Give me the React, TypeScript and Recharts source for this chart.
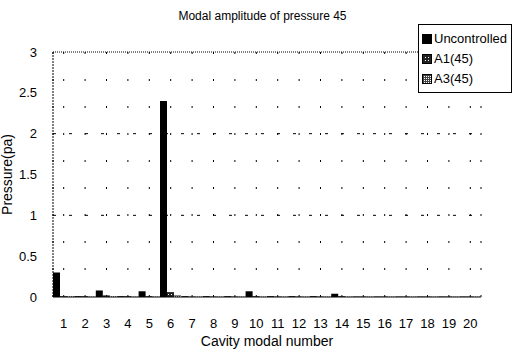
import {
  BarChart,
  Bar,
  XAxis,
  YAxis,
  CartesianGrid,
} from "recharts";

const modes = ["1", "2", "3", "4", "5", "6", "7", "8", "9", "10", "11", "12", "13", "14", "15", "16", "17", "18", "19", "20"];
const uncontrolled = [0.3, 0.01, 0.08, 0.01, 0.07, 2.4, 0.01, 0.01, 0.01, 0.07, 0.01, 0.01, 0.01, 0.04, 0.005, 0.005, 0.005, 0.005, 0.005, 0.005];
const a1 = [0.01, 0.01, 0.02, 0.01, 0.01, 0.06, 0.005, 0.005, 0.005, 0.01, 0.005, 0.005, 0.005, 0.01, 0.005, 0.005, 0.005, 0.005, 0.005, 0.005];
const a3 = [0.01, 0.005, 0.01, 0.005, 0.005, 0.02, 0.005, 0.005, 0.005, 0.005, 0.005, 0.005, 0.005, 0.005, 0.005, 0.005, 0.005, 0.005, 0.005, 0.005];
const yTicks = [0, 0.5, 1, 1.5, 2, 2.5, 3];

const data = modes.map((m, i) => ({
  mode: m,
  Uncontrolled: uncontrolled[i],
  "A1(45)": a1[i],
  "A3(45)": a3[i],
}));

const font = "'Liberation Sans', Arial, sans-serif";

const legendItems = [
  { name: "Uncontrolled", fill: "#000" },
  { name: "A1(45)", fill: "url(#lgA1)" },
  { name: "A3(45)", fill: "url(#lgA3)" },
];

function Patterns({ a1Id, a3Id }: { a1Id: string; a3Id: string }) {
  return (
    <defs>
      <pattern id={a1Id} width="3" height="3" patternUnits="userSpaceOnUse">
        <rect width="3" height="3" fill="#222" />
        <rect width="1" height="1" fill="#fff" />
      </pattern>
      <pattern id={a3Id} width="2" height="2" patternUnits="userSpaceOnUse">
        <rect width="2" height="2" fill="#444" />
        <rect width="1" height="1" fill="#fff" />
      </pattern>
    </defs>
  );
}

function LegendBox() {
  return (
    <div
      style={{
        position: "absolute",
        left: 418,
        top: 24,
        border: "1px solid #000",
        background: "#fff",
        padding: "4px 4px 3px 3px",
        fontFamily: font,
        fontSize: 13,
        lineHeight: "20px",
        color: "#000",
      }}
    >
      <svg width={0} height={0} style={{ position: "absolute" }}>
        <Patterns a1Id="lgA1" a3Id="lgA3" />
      </svg>
      {legendItems.map((it) => (
        <div key={it.name} style={{ display: "flex", alignItems: "center" }}>
          <svg width={10} height={10} style={{ marginRight: 2 }}>
            <rect x={0.5} y={0.5} width={9} height={9} fill={it.fill} stroke="#000" />
          </svg>
          {it.name}
        </div>
      ))}
    </div>
  );
}

export default function App() {
  return (
    <div style={{ position: "absolute", left: 0, top: 0, width: 515, height: 350, background: "#fff" }}>
      <div
        style={{
          position: "absolute",
          top: 9,
          left: 0,
          width: 525,
          textAlign: "center",
          fontFamily: font,
          fontSize: 12,
        }}
      >
        Modal amplitude of pressure 45
      </div>
      <BarChart
        width={515}
        height={350}
        data={data}
        margin={{ top: 52, right: 34, bottom: 0, left: 0 }}
        barCategoryGap={1}
        barGap={0}
      >
        <Patterns a1Id="hatchA1" a3Id="hatchA3" />
        <CartesianGrid
          stroke="#000"
          strokeDasharray="3 13"
          vertical={false}
          horizontalValues={[1, 2]}
        />
        <CartesianGrid
          stroke="#000"
          strokeDasharray="1 1"
          vertical={false}
          horizontalValues={[3]}
        />
        <CartesianGrid
          stroke="#000"
          strokeDasharray="2 25"
          horizontal={false}
        />
        <XAxis
          dataKey="mode"
          height={53}
          axisLine={{ stroke: "#000" }}
          tickLine={false}
          tickMargin={16}
          tick={{ fill: "#000", fontSize: 13, fontFamily: font }}
          interval={0}
          label={{
            value: "Cavity modal number",
            position: "insideBottom",
            offset: 4,
            fill: "#000",
            fontSize: 14,
            fontFamily: font,
          }}
        />
        <YAxis
          width={53}
          domain={[0, 3]}
          ticks={yTicks}
          axisLine={{ stroke: "#000", strokeDasharray: "2 1" }}
          tickLine={false}
          tickMargin={10}
          tick={{ fill: "#000", fontSize: 13, fontFamily: font }}
          label={{
            value: "Pressure(pa)",
            angle: -90,
            position: "insideLeft",
            offset: 7,
            fill: "#000",
            fontSize: 14,
            fontFamily: font,
            style: { textAnchor: "middle" },
          }}
        />
        <YAxis
          yAxisId="right"
          orientation="right"
          width={0}
          domain={[0, 3]}
          tick={false}
          tickLine={false}
          axisLine={{ stroke: "#000", strokeDasharray: "1 1" }}
        />
        <Bar dataKey="Uncontrolled" fill="#000" barSize={7} isAnimationActive={false} />
        <Bar dataKey="A1(45)" fill="url(#hatchA1)" barSize={7} isAnimationActive={false} />
        <Bar dataKey="A3(45)" fill="url(#hatchA3)" barSize={7} isAnimationActive={false} />
      </BarChart>
      <LegendBox />
    </div>
  );
}
